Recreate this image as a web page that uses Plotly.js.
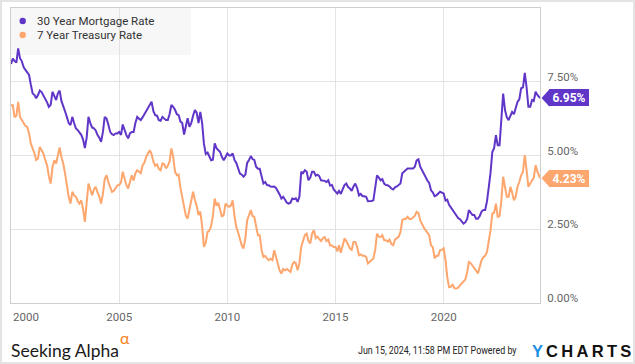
<!DOCTYPE html>
<html><head><meta charset="utf-8">
<script src="https://cdn.plot.ly/plotly-3.0.1.min.js"></script>
<style>html,body{margin:0;padding:0;background:#fff;overflow:hidden}#chart{width:635px;height:364px}</style>
</head><body><div id="chart"></div>
<script>
// ---------- DATA ----------
const seriesNames = ['30 Year Mortgage Rate', '7 Year Treasury Rate'];
const seriesColors = ['#6036c8', '#fda66e'];
const startYear = 2000;          // monthly observations from Jan 2000
const lastDate = '2024-06-14';   // final observation

const mortgageRate = [
  8.10, 8.29, 8.20, 8.15, 8.63, 8.30, 8.20, 8.00, 7.90, 7.80, 7.73, 7.40, // 2000
  7.10, 7.05, 6.94, 7.05, 7.20, 7.15, 7.05, 6.94, 6.80, 6.65, 6.72, 7.16, // 2001
  7.00, 6.88, 7.10, 7.20, 6.85, 6.70, 6.50, 6.31, 6.10, 6.03, 6.31, 6.10, // 2002
  5.92, 5.86, 5.80, 5.70, 5.55, 5.25, 5.60, 6.31, 6.10, 5.95, 5.92, 5.85, // 2003
  5.69, 5.60, 5.46, 5.80, 6.31, 6.25, 6.05, 5.80, 5.72, 5.69, 5.75, 5.75, // 2004
  5.80, 5.70, 6.05, 5.85, 5.70, 5.58, 5.75, 5.80, 5.80, 6.10, 6.31, 6.25, // 2005
  6.20, 6.30, 6.40, 6.50, 6.62, 6.75, 6.82, 6.50, 6.37, 6.35, 6.20, 6.18, // 2006
  6.31, 6.25, 6.20, 6.20, 6.40, 6.71, 6.65, 6.55, 6.40, 6.37, 6.15, 6.10, // 2007
  5.71, 6.00, 6.26, 5.97, 6.10, 6.35, 6.54, 6.45, 6.10, 6.48, 6.10, 5.40, // 2008
  5.05, 5.10, 5.00, 4.84, 4.86, 5.41, 5.25, 5.18, 5.12, 4.95, 4.84, 4.95, // 2009
  5.07, 5.00, 5.00, 5.07, 4.85, 4.75, 4.55, 4.39, 4.35, 4.28, 4.35, 4.75, // 2010
  4.85, 4.98, 4.88, 4.85, 4.62, 4.55, 4.55, 4.30, 4.05, 4.10, 4.00, 3.99, // 2011
  3.95, 3.94, 3.95, 3.90, 3.80, 3.68, 3.54, 3.60, 3.50, 3.40, 3.37, 3.40, // 2012
  3.54, 3.52, 3.55, 3.43, 3.60, 4.45, 4.40, 4.50, 4.45, 4.16, 4.25, 4.45, // 2013
  4.45, 4.32, 4.35, 4.30, 4.16, 4.16, 4.14, 4.10, 4.16, 3.98, 4.00, 3.85, // 2014
  3.77, 3.71, 3.80, 3.70, 3.85, 4.00, 4.05, 3.93, 3.88, 3.80, 3.95, 4.05, // 2015
  3.90, 3.65, 3.70, 3.62, 3.62, 3.60, 3.45, 3.45, 3.46, 3.48, 3.90, 4.33, // 2016
  4.25, 4.16, 4.20, 4.05, 4.00, 3.99, 3.95, 3.88, 3.85, 3.92, 3.95, 3.99, // 2017
  4.05, 4.40, 4.45, 4.50, 4.56, 4.56, 4.55, 4.56, 4.62, 4.83, 4.87, 4.62, // 2018
  4.50, 4.37, 4.28, 4.15, 4.07, 3.82, 3.75, 3.62, 3.65, 3.70, 3.77, 3.74, // 2019
  3.71, 3.47, 3.50, 3.33, 3.24, 3.15, 3.02, 2.94, 2.88, 2.84, 2.76, 2.69, // 2020
  2.74, 2.85, 3.15, 3.05, 2.98, 2.98, 2.86, 2.86, 2.95, 3.10, 3.15, 3.15, // 2021
  3.45, 3.94, 4.40, 5.12, 5.25, 5.69, 5.35, 5.35, 6.31, 7.10, 6.54, 6.30, // 2022
  6.20, 6.35, 6.48, 6.40, 6.60, 6.82, 6.90, 7.28, 7.31, 7.80, 7.30, 6.65, // 2023
  6.65, 6.88, 6.85, 7.16, 7.05, 6.95                                      // 2024
];

const treasuryRate = [
  6.70, 6.70, 6.30, 6.35, 6.82, 6.31, 6.20, 6.09, 6.00, 5.97, 5.75, 5.40, // 2000
  5.24, 5.07, 4.85, 4.90, 5.29, 5.15, 5.07, 4.85, 4.67, 4.30, 4.05, 4.60, // 2001
  4.84, 4.73, 5.05, 5.27, 4.95, 4.73, 4.40, 3.99, 3.60, 3.37, 3.77, 3.65, // 2002
  3.60, 3.45, 3.37, 3.48, 3.20, 2.75, 3.30, 4.05, 3.85, 3.65, 3.85, 3.94, // 2003
  3.75, 3.60, 3.37, 3.70, 4.20, 4.33, 4.10, 3.94, 3.77, 3.80, 3.90, 3.99, // 2004
  4.00, 4.10, 4.45, 4.20, 4.00, 3.88, 4.10, 4.33, 4.15, 4.40, 4.50, 4.45, // 2005
  4.40, 4.67, 4.75, 4.95, 5.05, 5.18, 5.05, 4.79, 4.65, 4.70, 4.55, 4.50, // 2006
  4.73, 4.70, 4.56, 4.65, 4.80, 5.24, 4.95, 4.45, 4.33, 4.35, 3.90, 3.54, // 2007
  3.30, 2.95, 2.86, 3.15, 3.45, 3.77, 3.50, 3.30, 2.98, 3.10, 2.60, 1.90, // 2008
  2.05, 2.41, 2.45, 2.60, 2.95, 3.54, 3.30, 3.40, 3.15, 2.92, 3.00, 3.37, // 2009
  3.30, 3.26, 3.30, 3.48, 2.95, 2.58, 2.40, 2.15, 1.95, 1.85, 2.20, 2.81, // 2010
  2.95, 3.15, 2.95, 2.92, 2.60, 2.30, 2.30, 1.80, 1.56, 1.60, 1.51, 1.45, // 2011
  1.50, 1.45, 1.79, 1.60, 1.34, 1.10, 1.00, 1.15, 1.11, 1.15, 1.08, 1.05, // 2012
  1.30, 1.39, 1.35, 1.11, 1.35, 1.90, 2.10, 2.30, 2.35, 2.10, 2.02, 2.35, // 2013
  2.47, 2.20, 2.25, 2.19, 2.10, 2.20, 2.24, 2.10, 2.15, 1.95, 1.95, 1.90, // 2014
  1.90, 1.75, 1.96, 1.70, 1.90, 2.19, 2.10, 1.95, 1.85, 1.80, 2.07, 2.07, // 2015
  1.90, 1.62, 1.65, 1.60, 1.60, 1.56, 1.34, 1.40, 1.45, 1.51, 1.80, 2.35, // 2016
  2.25, 2.24, 2.30, 2.13, 2.13, 2.08, 2.15, 2.00, 1.96, 2.15, 2.20, 2.24, // 2017
  2.40, 2.81, 2.85, 2.85, 2.92, 2.85, 2.85, 2.90, 2.95, 3.09, 3.05, 2.80, // 2018
  2.65, 2.55, 2.47, 2.40, 2.30, 1.95, 1.90, 1.51, 1.60, 1.60, 1.79, 1.80, // 2019
  1.85, 1.45, 0.88, 0.54, 0.55, 0.62, 0.50, 0.49, 0.52, 0.60, 0.66, 0.71, // 2020
  0.80, 1.05, 1.39, 1.35, 1.28, 1.20, 1.10, 1.00, 1.20, 1.45, 1.55, 1.60, // 2021
  1.73, 2.07, 2.45, 3.03, 3.05, 3.37, 2.92, 2.95, 3.48, 4.28, 3.90, 3.60, // 2022
  3.60, 3.94, 3.75, 3.48, 3.60, 3.95, 4.10, 4.33, 4.45, 5.01, 4.50, 3.94, // 2023
  4.05, 4.16, 4.25, 4.67, 4.45, 4.23                                      // 2024
];

const xTickYears = ['2000', '2005', '2010', '2015', '2020'];
const yTickValues = [0, 2.5, 5, 7.5];
const yTickLabels = ['0.00%', '2.50%', '5.00%', '7.50%'];
const footerDate = 'Jun 15, 2024, 11:58 PM EDT Powered by';
const brandLeft = 'Seeking Alpha';
const brandRight = ['Y', 'CHARTS'];

// ---------- BUILD ----------
function monthlyDates(n) {
  const out = [];
  for (let i = 0; i < n; i++) {
    const y = startYear + Math.floor(i / 12), m = (i % 12) + 1;
    out.push(i === n - 1 ? lastDate : y + '-' + String(m).padStart(2, '0') + '-01');
  }
  return out;
}
const dates = monthlyDates(mortgageRate.length);
const series = [mortgageRate, treasuryRate];

const W = 635, H = 364, L = 11, R = 95, T = 8, B = 61;
const plotW = W - L - R, plotH = H - T - B;
const px = x => (x - L) / plotW;
const py = y => (H - B - y) / plotH;
const FONT = 'Roboto, sans-serif';
const FOOTER_LEFT = 358, FOOTER_RIGHT = 517;

const traces = series.map((vals, i) => ({
  type: 'scatter', mode: 'lines', x: dates, y: vals, name: seriesNames[i],
  line: {color: seriesColors[i], width: 2}, showlegend: false,
  hovertemplate: '%{x|%b %Y}: %{y:.2f}%<extra>' + seriesNames[i] + '</extra>'
}));

const shapes = [
  {type: 'rect', xref: 'paper', yref: 'paper', x0: px(1), x1: px(634), y0: py(363), y1: py(1),
   line: {color: '#e4e4e4', width: 2}, fillcolor: 'rgba(0,0,0,0)', layer: 'below'},
  {type: 'rect', xref: 'paper', yref: 'paper', x0: 0, x1: px(191), y0: py(55), y1: 1,
   line: {width: 0}, fillcolor: '#f7f7f7', layer: 'below'}
];
const annotations = [];

seriesNames.forEach((nm, i) => {
  const yc = 21 + i * 14;
  shapes.push({type: 'circle', xref: 'paper', yref: 'paper', xsizemode: 'pixel', ysizemode: 'pixel',
    xanchor: px(22.7), yanchor: py(yc), x0: -3.2, x1: 3.2, y0: -3.2, y1: 3.2,
    fillcolor: seriesColors[i], line: {width: 0}});
  annotations.push({xref: 'paper', yref: 'paper', x: px(35), y: py(yc), xanchor: 'left', yanchor: 'middle',
    text: nm, showarrow: false, font: {family: FONT, size: 11.5, color: '#333'}});
  const last = series[i][series[i].length - 1];
  shapes.push({type: 'path', xref: 'paper', yref: 'y', xsizemode: 'pixel', ysizemode: 'pixel',
    xanchor: 1, yanchor: last, path: 'M 1.5 0 L 9.5 8.7 L 9.5 -8.7 Z',
    fillcolor: seriesColors[i], line: {width: 0}});
  annotations.push({xref: 'paper', yref: 'y', x: 1, y: last, xshift: 9, xanchor: 'left', yanchor: 'middle',
    text: '<b>' + last.toFixed(2) + '%</b>', showarrow: false, bgcolor: seriesColors[i],
    width: 36, height: 13, borderpad: 2, borderwidth: 0,
    font: {family: FONT, size: 12, color: '#fff'}});
});

annotations.push({xref: 'x', yref: 'paper', x: startYear + '-01-01', y: py(317), xanchor: 'left', yanchor: 'middle',
  xshift: 0, text: xTickYears[0], showarrow: false, font: {family: FONT, size: 11.5, color: '#666'}});

annotations.push({xref: 'paper', yref: 'paper', x: px(9), y: py(350), xanchor: 'left', yanchor: 'middle',
  text: brandLeft, showarrow: false, font: {family: 'Lato, sans-serif', size: 17.5, color: '#1a1a1a'}});
annotations.push({xref: 'paper', yref: 'paper', x: px(119), y: py(337), xanchor: 'left', yanchor: 'middle',
  text: 'α', showarrow: false, borderpad: 0, font: {family: 'Lato, sans-serif', size: 16, color: '#f58220'}});
annotations.push({xref: 'paper', yref: 'paper', x: px(FOOTER_LEFT), y: py(350), xanchor: 'left', yanchor: 'middle',
  borderpad: 0, text: footerDate, showarrow: false, font: {family: FONT, size: 11.5, color: '#222'}});
annotations.push({xref: 'paper', yref: 'paper', x: px(531), y: py(350.5), xanchor: 'left', yanchor: 'middle',
  text: brandRight[0], showarrow: false, borderpad: 0,
  font: {family: '"Liberation Sans", Arial, sans-serif', size: 16.5, color: '#1b8fe2', weight: 700}});
annotations.push({xref: 'paper', yref: 'paper', x: px(545), y: py(350.5), xanchor: 'left', yanchor: 'middle',
  text: brandRight[1].split('').join('\u2009'), showarrow: false, borderpad: 0,
  font: {family: '"Liberation Sans", Arial, sans-serif', size: 16.5, color: '#111', weight: 700}});

const layout = {
  width: W, height: H,
  margin: {l: L, r: R, t: T, b: B, pad: 0},
  paper_bgcolor: '#fff', plot_bgcolor: 'rgba(0,0,0,0)',
  showlegend: false,
  xaxis: {
    type: 'date', range: [startYear + '-01-01', lastDate],
    tickvals: xTickYears.slice(1).map(y => y + '-01-01'), ticktext: xTickYears.slice(1),
    showgrid: true, gridcolor: '#e3e3e3', gridwidth: 1,
    showline: true, mirror: true, linecolor: '#cfcfcf', linewidth: 1,
    ticks: '', zeroline: false, ticklabelstandoff: 3,
    tickfont: {family: FONT, size: 11.5, color: '#666'}
  },
  yaxis: {
    range: [0, 10], side: 'right',
    tickvals: yTickValues, ticktext: yTickLabels,
    showgrid: true, gridcolor: '#e3e3e3', gridwidth: 1,
    showline: true, mirror: true, linecolor: '#cfcfcf', linewidth: 1,
    ticks: '', zeroline: false, ticklabelshift: -5, ticklabelstandoff: 4,
    tickfont: {family: FONT, size: 11.5, color: '#666'}
  },
  shapes: shapes, annotations: annotations
};

Plotly.newPlot('chart', traces, layout, {displayModeBar: false}).then(gd => {
  // squeeze the footer timestamp horizontally into the narrow span of the original
  const t = Array.from(gd.querySelectorAll('.annotation-text')).find(e => e.textContent === footerDate);
  if (t) {
    const bb = t.getBBox();
    const pc = t.parentNode.getCTM();
    const offX = pc ? pc.e : 0;
    const sx = (FOOTER_RIGHT - FOOTER_LEFT) / bb.width;
    const tx = (FOOTER_LEFT - offX) - sx * bb.x;
    t.setAttribute('transform', 'translate(' + tx + ',0) scale(' + sx + ',1)');
  }
});
</script></body></html>
